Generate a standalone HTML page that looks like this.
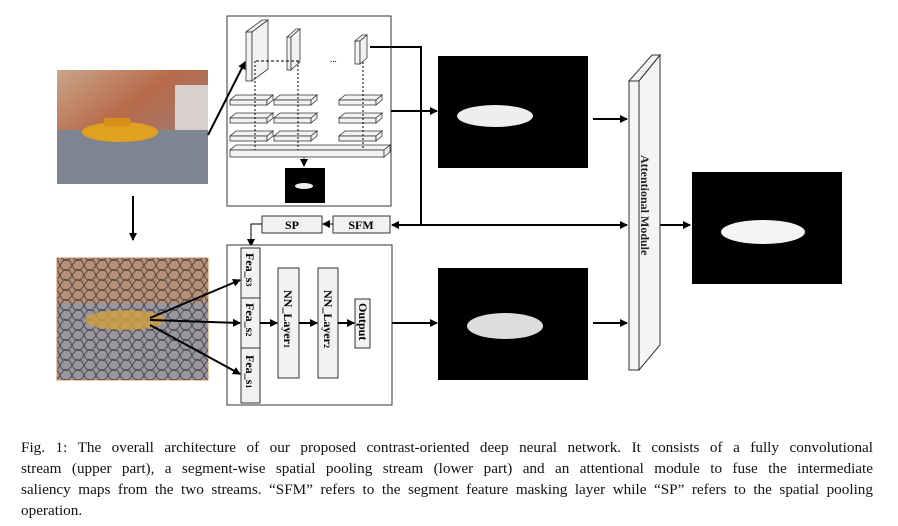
<!DOCTYPE html>
<html><head><meta charset="utf-8"><style>
body{margin:0;background:#fff;width:898px;height:526px;overflow:hidden;position:relative;font-family:"Liberation Serif",serif}
.cap{position:absolute;left:21px;top:437px;width:852px;font-size:15.2px;line-height:21px;color:#111}
.cap div{text-align:justify;text-align-last:justify;white-space:nowrap}
.cap div.l{text-align-last:left}
</style></head><body>
<svg width="898" height="526" style="position:absolute;left:0;top:0" font-family="Liberation Serif, serif">
<defs>
<marker id="a" markerWidth="8" markerHeight="8" refX="7" refY="4" orient="auto" markerUnits="userSpaceOnUse"><path d="M0,0 L8,4 L0,8z" fill="#000"/></marker>
<linearGradient id="sky" x1="0" y1="0" x2="1" y2="1"><stop offset="0" stop-color="#c9a58a"/><stop offset="0.4" stop-color="#b86a4a"/><stop offset="1" stop-color="#8a8a90"/></linearGradient>
<pattern id="seg" width="12" height="10" patternUnits="userSpaceOnUse"><path d="M0,5 L4,0 L10,1 L12,6 L8,10 L2,9z" fill="none" stroke="#222" stroke-width="0.8"/></pattern>
</defs>
<rect x="57" y="70" width="151" height="114" fill="url(#sky)"/>
<rect x="57" y="130" width="151" height="54" fill="#7f8590"/>
<rect x="175" y="85" width="33" height="45" fill="#d7d0cc"/>
<ellipse cx="120" cy="132" rx="38" ry="10" fill="#e0a020"/>
<rect x="104" y="118" width="26" height="8" fill="#d89018"/>
<rect x="57" y="258" width="151" height="122" fill="#9a96a0" stroke="#d59050"/>
<rect x="57" y="258" width="151" height="45" fill="#b79078"/>
<rect x="57" y="258" width="151" height="122" fill="url(#seg)" opacity="0.8"/>
<ellipse cx="125" cy="320" rx="40" ry="10" fill="#d0a040" opacity="0.8"/>
<line x1="133" y1="196" x2="133" y2="240" stroke="#000" stroke-width="2" marker-end="url(#a)"/>
<rect x="227" y="16" width="164" height="190" fill="#fff" stroke="#333"/>
<g fill="#f2f2f2" stroke="#333" stroke-width="0.8">
<path d="M246,32 L262,20 L268,20 L252,32z"/><rect x="246" y="32" width="6" height="49"/><path d="M252,32 L268,20 L268,69 L252,81z"/>
<path d="M287,37 L296,29 L300,29 L291,37z"/><rect x="287" y="37" width="4" height="33"/><path d="M291,37 L300,29 L300,62 L291,70z"/>
<path d="M355,41 L362,35 L367,35 L360,41z"/><rect x="355" y="41" width="5" height="23"/><path d="M360,41 L367,35 L367,58 L360,64z"/>
</g>
<path d="M256,61 L299,61" stroke="#000" stroke-dasharray="3,2" fill="none"/>
<text x="330" y="62" font-size="9">...</text>
<g fill="#f2f2f2" stroke="#333" stroke-width="0.8">
<g id="sl"><path d="M230,100 L267,100 L273,95 L236,95z"/><rect x="230" y="100" width="37" height="5"/><path d="M267,100 L273,95 L273,100 L267,105z"/></g>
<use href="#sl" y="18"/><use href="#sl" y="36"/>
<use href="#sl" x="44"/><use href="#sl" x="44" y="18"/><use href="#sl" x="44" y="36"/>
<use href="#sl" x="109"/><use href="#sl" x="109" y="18"/><use href="#sl" x="109" y="36"/>
<path d="M230,150 L384,150 L390,145 L236,145z"/><rect x="230" y="150" width="154" height="7"/><path d="M384,150 L390,145 L390,152 L384,157z"/>
</g>
<g stroke="#000" stroke-dasharray="2,2"><line x1="255" y1="61" x2="255" y2="150"/><line x1="298" y1="61" x2="298" y2="150"/><line x1="363" y1="62" x2="363" y2="150"/></g>
<line x1="304" y1="157" x2="304" y2="166" stroke="#333" marker-end="url(#a)"/>
<rect x="285" y="168" width="40" height="35" fill="#000"/><ellipse cx="304" cy="186" rx="9" ry="3" fill="#eee"/>
<line x1="208" y1="135" x2="245" y2="62" stroke="#000" stroke-width="2" marker-end="url(#a)"/>
<rect x="262" y="216" width="60" height="17" fill="#f2f2f2" stroke="#333"/><text x="292" y="229" font-size="12" font-weight="bold" text-anchor="middle">SP</text>
<rect x="333" y="216" width="57" height="17" fill="#f2f2f2" stroke="#333"/><text x="361" y="229" font-size="12" font-weight="bold" text-anchor="middle">SFM</text>
<line x1="333" y1="224" x2="323" y2="224" stroke="#000" marker-end="url(#a)"/>
<polyline points="262,224 251,224 251,246" fill="none" stroke="#000" marker-end="url(#a)"/>
<polyline points="370,47 421,47 421,225" fill="none" stroke="#000" stroke-width="2"/>
<line x1="421" y1="225" x2="392" y2="225" stroke="#000" stroke-width="2" marker-end="url(#a)"/>
<line x1="421" y1="225" x2="627" y2="225" stroke="#000" stroke-width="2" marker-end="url(#a)"/>
<line x1="391" y1="111" x2="437" y2="111" stroke="#000" stroke-width="2" marker-end="url(#a)"/>
<rect x="227" y="245" width="165" height="160" fill="#fff" stroke="#333"/>
<g fill="#f2f2f2" stroke="#333">
<rect x="241" y="248" width="19" height="50"/><rect x="241" y="298" width="19" height="50"/><rect x="241" y="348" width="19" height="55"/>
<rect x="278" y="268" width="21" height="110"/><rect x="318" y="268" width="20" height="110"/><rect x="355" y="299" width="15" height="49"/>
</g>
<line x1="150" y1="318" x2="240" y2="280" stroke="#000" stroke-width="2" marker-end="url(#a)"/>
<line x1="150" y1="320" x2="240" y2="323" stroke="#000" stroke-width="2" marker-end="url(#a)"/>
<line x1="150" y1="325" x2="240" y2="374" stroke="#000" stroke-width="2" marker-end="url(#a)"/>
<g font-size="12" font-weight="bold">
<text transform="translate(246,253) rotate(90)">Fea_s<tspan font-size="8">3</tspan></text>
<text transform="translate(246,303) rotate(90)">Fea_s<tspan font-size="8">2</tspan></text>
<text transform="translate(246,355) rotate(90)">Fea_s<tspan font-size="8">1</tspan></text>
<text transform="translate(284,290) rotate(90)">NN_Layer<tspan font-size="8">1</tspan></text>
<text transform="translate(324,290) rotate(90)">NN_Layer<tspan font-size="8">2</tspan></text>
<text transform="translate(359,303) rotate(90)">Output</text>
</g>
<g stroke="#000" stroke-width="2"><line x1="260" y1="323" x2="277" y2="323" marker-end="url(#a)"/><line x1="299" y1="323" x2="317" y2="323" marker-end="url(#a)"/><line x1="338" y1="323" x2="354" y2="323" marker-end="url(#a)"/>
<line x1="392" y1="323" x2="437" y2="323" marker-end="url(#a)"/>
<line x1="593" y1="119" x2="627" y2="119" marker-end="url(#a)"/>
<line x1="593" y1="323" x2="627" y2="323" marker-end="url(#a)"/>
<line x1="660" y1="225" x2="690" y2="225" marker-end="url(#a)"/></g>
<rect x="438" y="56" width="150" height="112" fill="#000"/><ellipse cx="495" cy="116" rx="38" ry="11" fill="#eee"/>
<rect x="438" y="268" width="150" height="112" fill="#000"/><ellipse cx="505" cy="326" rx="38" ry="13" fill="#ddd"/>
<rect x="692" y="172" width="150" height="112" fill="#000"/><ellipse cx="763" cy="232" rx="42" ry="12" fill="#f4f4f4"/>
<path d="M629,81 L652,55 L660,55 L639,81z" fill="#f4f4f4" stroke="#333"/>
<rect x="629" y="81" width="10" height="289" fill="#f4f4f4" stroke="#333"/>
<path d="M639,81 L660,55 L660,345 L639,370z" fill="#f4f4f4" stroke="#333"/>
<text transform="translate(641,155) rotate(90)" font-size="12" font-weight="bold" fill="#222">Attentional Module</text>
</svg>
<div class="cap">
<div>Fig. 1: The overall architecture of our proposed contrast-oriented deep neural network. It consists of a fully convolutional</div>
<div>stream (upper part), a segment-wise spatial pooling stream (lower part) and an attentional module to fuse the intermediate</div>
<div>saliency maps from the two streams. “SFM” refers to the segment feature masking layer while “SP” refers to the spatial pooling</div>
<div class="l">operation.</div>
</div>
</body></html>
